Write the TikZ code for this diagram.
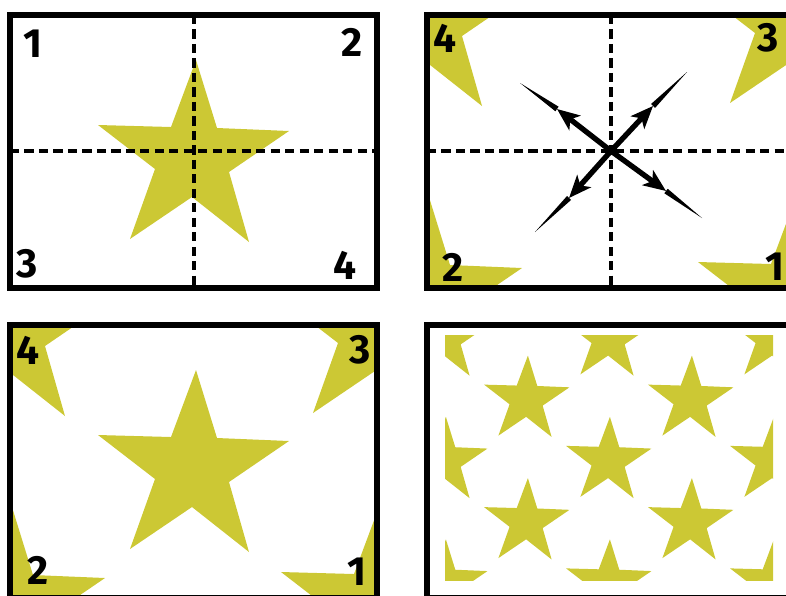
\documentclass[tikz,border=0pt]{standalone}
\usepackage{fontspec}
\setmainfont{Fira Sans}
\usetikzlibrary{arrows.meta,calc}
\definecolor{starfill}{RGB}{204,200,52}
\tikzset{
  panelframe/.style={line width=3.7pt},
  cut/.style={line width=2.3pt, dash pattern=on 6.5pt off 3.8pt},
  num/.style={font=\fontsize{29}{29}\selectfont\bfseries},
  shaft/.style={line width=3.8pt, -{Stealth[length=16pt,width=13pt,inset=4pt]}},
  starfig/.pic={
    \fill[starfill] (2,-91) -- (23,-23) -- (95,-20) -- (35,21) -- (55,91) -- (-2,46)
      -- (-64,88) -- (-39,18) -- (-96,-26) -- (-23,-24) -- cycle;
  }
}
\begin{document}
\begin{tikzpicture}[x=0.025cm,y=-0.025cm]
\useasboundingbox (0,0) rectangle (786,595);

% panel 1: the star, cut in four
\pic at (194,151) {starfig};
\draw[cut] (194,15) -- (194,288);
\draw[cut] (10,151) -- (377,151);
\draw[panelframe] (10,15) rectangle (377,288);
\node[num] (a1) at (33,44) {1};
\node[num] (a2) at (352,42) {2};
\node[num] (a3) at (27,264) {3};
\node[num] (a4) at (345,265) {4};

% panel 2: quarters swapped to the corners
\begin{scope}
\clip (427,15) rectangle (794,288);
\foreach \x/\y in {427/15,794/15,427/288,794/288}
  \pic at (\x,\y) {starfig};
\end{scope}
\draw[cut] (611,15) -- (611,288);
\draw[cut] (427,151) -- (794,151);
\coordinate (m) at (611,151);
\coordinate (nw-tip) at (557,109);
\coordinate (nw-end) at (520,83);
\coordinate (ne-tip) at (653,106);
\coordinate (ne-end) at (687,72);
\coordinate (sw-tip) at (569,198);
\coordinate (sw-end) at (535,232);
\coordinate (se-tip) at (666,191);
\coordinate (se-end) at (702,218);
\foreach \d in {nw,ne,sw,se}{
  \draw[shaft] (m) -- (\d-tip);
  \fill ($(\d-tip)!2pt!90:(\d-end)$) -- (\d-end) -- ($(\d-tip)!2pt!-90:(\d-end)$) -- cycle;
}
\draw[panelframe] (427,15) rectangle (794,288);
\node[num] (b4) at (445,38) {4};
\node[num] (b3) at (768,38) {3};
\node[num] (b2) at (453,267) {2};
\node[num] (b1) at (775,267) {1};

% panel 3: a new star in the middle
\begin{scope}
\clip (10,325) rectangle (377,598);
\foreach \x/\y in {10/325,377/325,10/598,377/598}
  \pic at (\x,\y) {starfig};
\end{scope}
\pic at (194,461) {starfig};
\draw[panelframe] (10,325) rectangle (377,598);
\node[num] (c4) at (28,350) {4};
\node[num] (c3) at (360,350) {3};
\node[num] (c2) at (38,570) {2};
\node[num] (c1) at (357,572) {1};

% panel 4: the tile repeated
\begin{scope}
\clip (445,335) rectangle (773,580);
\foreach \x in {445,609,773}
  \foreach \y in {335,457.5,580}
    \pic[scale=0.447] at (\x,\y) {starfig};
\foreach \x in {527,691}
  \foreach \y in {396.25,518.75}
    \pic[scale=0.447] at (\x,\y) {starfig};
\end{scope}
\draw[panelframe] (427,325) rectangle (794,598);
\end{tikzpicture}
\end{document}
